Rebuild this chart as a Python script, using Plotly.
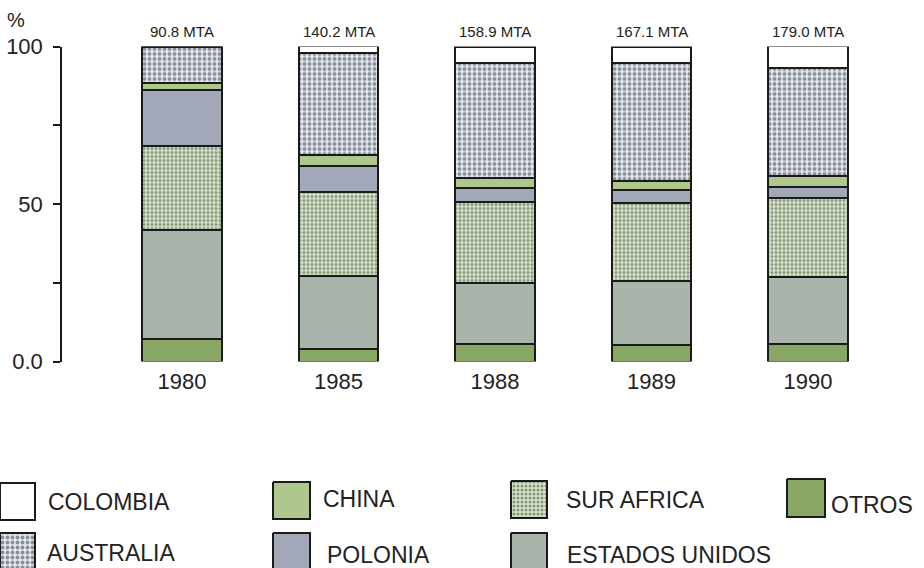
import plotly.graph_objects as go

# ---------------- data ----------------
years = ["1980", "1985", "1988", "1989", "1990"]
totals = ["90.8 MTA", "140.2 MTA", "158.9 MTA", "167.1 MTA", "179.0 MTA"]

otros = [7.0, 4.0, 5.6, 5.3, 5.6]
estados_unidos = [34.8, 23.2, 19.4, 20.1, 21.3]
sur_africa = [26.5, 26.6, 25.7, 24.8, 24.9]
polonia = [17.9, 8.4, 4.4, 4.2, 3.5]
china = [2.1, 3.2, 3.2, 2.9, 3.7]
australia = [11.7, 32.5, 36.4, 37.4, 34.2]
colombia = [0.0, 2.3, 5.3, 5.3, 6.9]

y_tickvals = [0, 25, 50, 75, 100]
y_ticktext = ["0.0", "", "50", "", "100"]

# ---------------- styles ----------------
FONT = "Liberation Sans, Arial, Helvetica, sans-serif"
W, H = 924, 568

series = [
    ("OTROS", otros, dict(color="#8aa865")),
    ("ESTADOS UNIDOS", estados_unidos, dict(color="#a9b5aa")),
    ("SUR AFRICA", sur_africa, dict(color="#d6e5c9",
                                    pattern=dict(shape=".", fgcolor="#34402f", bgcolor="#d6e5c9",
                                                 size=4, solidity=0.45))),
    ("POLONIA", polonia, dict(color="#a3a8b8")),
    ("CHINA", china, dict(color="#adc78e")),
    ("AUSTRALIA", australia, dict(color="#dfe3ea",
                                  pattern=dict(shape=".", fgcolor="#2f3542", bgcolor="#e2e6ee",
                                               size=5, solidity=0.45))),
    ("COLOMBIA", colombia, dict(color="#ffffff")),
]

fig = go.Figure()
for name, vals, mk in series:
    fig.add_trace(go.Bar(
        x=years, y=vals, name=name, width=0.51,
        marker=dict(line=dict(color="#1a1a1a", width=2), **mk),
        showlegend=False, hoverinfo="name+y",
    ))

# totals above bars (category index positions)
for i, t in enumerate(totals):
    fig.add_annotation(x=i, y=100, xref="x", yref="y", text=t, showarrow=False,
                       yshift=15, font=dict(family=FONT, size=15, color="#222"))

# "%" label
fig.add_annotation(x=16, y=20, xref="x2", yref="y2", text="%", showarrow=False,
                   font=dict(family=FONT, size=20, color="#222"))

# ---------------- custom legend (pixel coordinates on an overlay axis) ----------------
legend_items = [
    # name, box (x0, x1, y0, y1), text x, text y
    ("COLOMBIA", (0, 35, 483, 520), 46, 502),
    ("CHINA", (273, 310, 482, 519), 321, 499),
    ("SUR AFRICA", (511, 547, 481, 518), 564, 500),
    ("OTROS", (787, 825, 479, 517), 829, 505),
    ("AUSTRALIA", (0, 35, 533, 575), 45, 553),
    ("POLONIA", (273, 310, 533, 575), 325, 555),
    ("ESTADOS UNIDOS", (511, 547, 533, 575), 565, 555),
]
style = {name: mk for name, _, mk in series}
for name, (x0, x1, y0, y1), tx, ty in legend_items:
    mk = style[name]
    kw = {}
    if "pattern" in mk:
        p = mk["pattern"]
        kw["fillpattern"] = dict(shape=p["shape"], fgcolor=p["fgcolor"], bgcolor=p["bgcolor"],
                                 size=p["size"], solidity=p["solidity"])
    fig.add_trace(go.Scatter(
        x=[x0, x1, x1, x0, x0], y=[y0, y0, y1, y1, y0], xaxis="x2", yaxis="y2",
        mode="lines", fill="toself", fillcolor=mk["color"],
        line=dict(color="#1a1a1a", width=2), showlegend=False, hoverinfo="skip", **kw))
    fig.add_annotation(x=tx, y=ty, xref="x2", yref="y2", text=name, showarrow=False,
                       xanchor="left", yanchor="middle",
                       font=dict(family=FONT, size=23, color="#222"))

# ---------------- layout ----------------
left, right, top, bottom = 62, 900, 46.5, 361.5
fig.update_layout(
    width=W, height=H, barmode="stack", bargap=0.49,
    margin=dict(l=0, r=0, t=0, b=0),
    paper_bgcolor="white", plot_bgcolor="rgba(0,0,0,0)",
    font=dict(family=FONT, color="#222"),
    xaxis=dict(domain=[left / W, right / W], range=[-0.767, 4.588], type="category",
               showline=False, showgrid=False, zeroline=False, ticks="",
               tickfont=dict(size=22, family=FONT, color="#222"), automargin=False,
               ticklabelstandoff=4),
    yaxis=dict(domain=[1 - bottom / H, 1 - top / H], range=[0, 100],
               tickvals=y_tickvals, ticktext=y_ticktext,
               showline=True, linecolor="#1a1a1a", linewidth=1.5,
               ticks="outside", ticklen=7, tickwidth=1.5, tickcolor="#1a1a1a",
               showgrid=False, zeroline=False, automargin=False,
               ticklabelstandoff=6,
               tickfont=dict(size=22, family=FONT, color="#222")),
    xaxis2=dict(domain=[0, 1], range=[0, W], visible=False, fixedrange=True),
    yaxis2=dict(domain=[0, 1], range=[H, 0], visible=False, fixedrange=True,
                anchor="x2"),
)

fig.write_html("out.html", config={"displayModeBar": False},
               post_script="document.body.style.margin='0';document.body.style.overflow='hidden';")
